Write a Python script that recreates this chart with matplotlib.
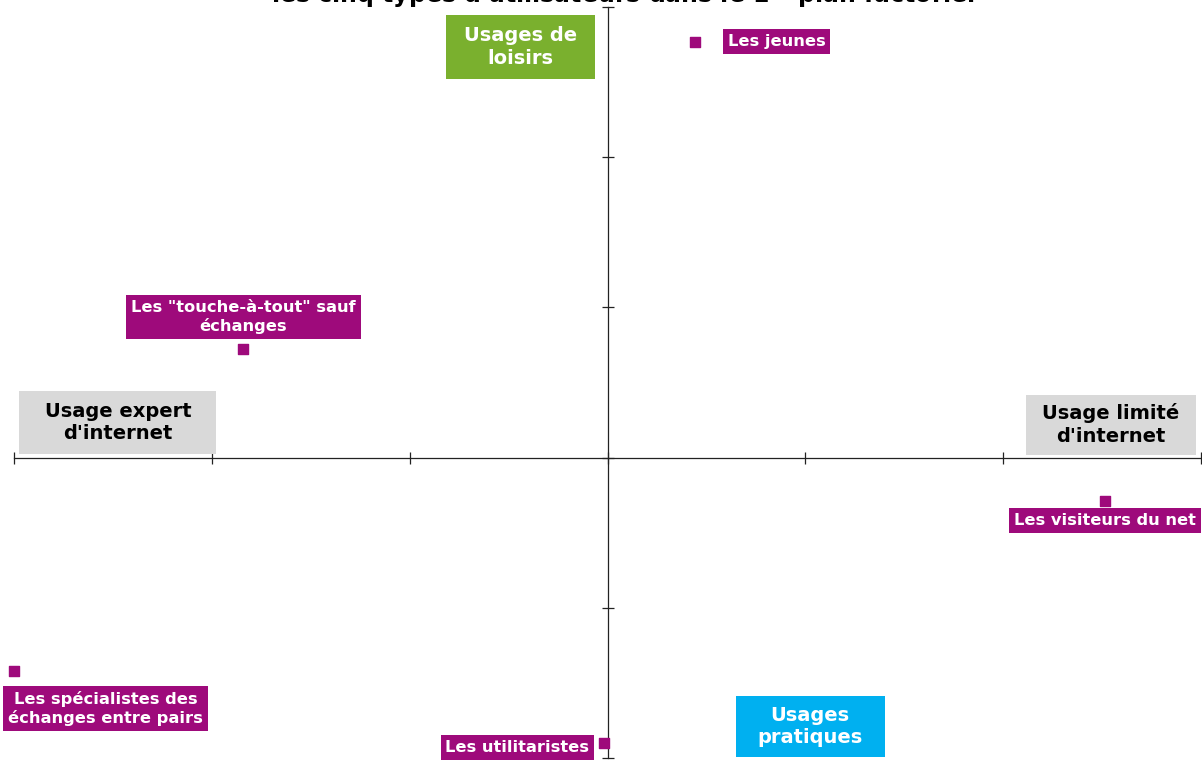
import matplotlib.pyplot as plt
from matplotlib.patches import Rectangle

# Données : coordonnées des cinq types d'utilisateurs dans le 1er plan factoriel
types = ['Les jeunes', 'Les "touche-à-tout" sauf\néchanges', 'Les visiteurs du net',
         'Les spécialistes des\néchanges entre pairs', 'Les utilitaristes']
axe1 = [0.44, -1.84, 2.515, -3.0, -0.02]
axe2 = [2.77, 0.725, -0.29, -1.42, -1.90]

# Décalage des étiquettes (en points) par rapport aux points
offsets = [(59, 0), (0, 23), (0, -14), (66, -27), (-62, -3)]

# Libellés des pôles
poles = ["Usage expert\nd'internet", "Usage limité\nd'internet", 'Usages de\nloisirs', 'Usages\npratiques']
pole_pos = [(-2.475, 0.233), (2.545, 0.22), (-0.44, 2.735), (1.025, -1.79)]
pole_size = [(0.995, 0.42), (0.855, 0.40), (0.752, 0.425), (0.752, 0.412)]  # largeur, hauteur (unités des axes)
pole_bg = ['#D9D9D9', '#D9D9D9', '#7AB02E', '#00B0F0']
pole_fg = ['black', 'black', 'white', 'white']

violet = '#9E0A7B'

fig = plt.figure(figsize=(12.02, 7.6), dpi=100)
ax = fig.add_axes([14 / 1202, 2 / 760, 1187 / 1202, 751 / 760])
ax.set_xlim(-3, 3)
ax.set_ylim(-2, 3)

# Axes croisés en zéro
for s in ['top', 'right']:
    ax.spines[s].set_visible(False)
for s in ['left', 'bottom']:
    ax.spines[s].set_position('zero')
    ax.spines[s].set_color('#222222')
    ax.spines[s].set_linewidth(0.9)
ax.set_xticks([-3, -2, -1, 0, 1, 2, 3])
ax.set_yticks([-2, -1, 0, 1, 2, 3])
ax.tick_params(direction='inout', length=8, width=0.9, color='#222222',
               labelbottom=False, labelleft=False)

ax.scatter(axe1, axe2, marker='s', s=48, color=violet, zorder=5, clip_on=False)

for name, x, y, off in zip(types, axe1, axe2, offsets):
    ax.annotate(name, (x, y), xytext=off, textcoords='offset points',
                ha='center', va='center', fontsize=11.7, fontweight='bold', color='white',
                linespacing=1.25,
                bbox=dict(boxstyle='square,pad=0.3', fc=violet, ec='none'),
                zorder=6, annotation_clip=False)

for txt, (x, y), (w, h), bg, fg in zip(poles, pole_pos, pole_size, pole_bg, pole_fg):
    ax.add_patch(Rectangle((x - w / 2, y - h / 2), w, h, fc=bg, ec='none', zorder=5))
    ax.text(x, y, txt, ha='center', va='center', fontsize=14, fontweight='bold',
            color=fg, linespacing=1.25, zorder=6)

# Titre (coupé en haut de l'image)
fig.text(0.518, 1 - 4 / 760, r"les cinq types d'utilisateurs dans le 1$^{\mathbf{er}}$ plan factoriel",
         ha='center', va='baseline', fontsize=17, fontweight='bold')

fig.savefig('out.png', dpi=100)
